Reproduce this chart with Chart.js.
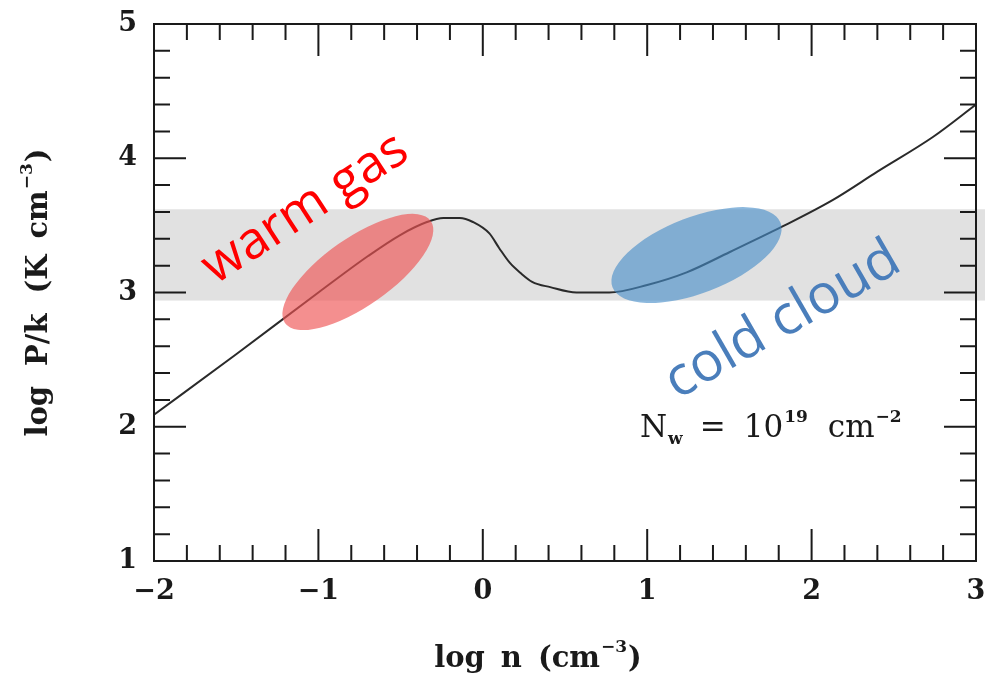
<!DOCTYPE html>
<html>
<head>
<meta charset="utf-8">
<script src="https://cdn.jsdelivr.net/npm/chart.js@4.4.0/dist/chart.umd.min.js"></script>
<style>
  html, body { margin: 0; padding: 0; background: #fff; }
  #wrap { width: 985px; height: 680px; position: relative; }
</style>
</head>
<body>
<div id="wrap"><canvas id="chart"></canvas></div>
<script>
// --- curve: log n (cm^-3) vs log P/k ---
const logN  = [-2, -1.5, -1.0, -0.7, -0.5, -0.34, -0.24, -0.14, -0.06, 0.04, 0.1, 0.165, 0.23, 0.3, 0.41, 0.57, 0.77, 1.0, 1.24, 1.5, 1.82, 2.13, 2.4, 2.74, 3.0];
const logPk = [2.09, 2.54, 3.0, 3.27, 3.43, 3.525, 3.555, 3.555, 3.525, 3.44, 3.33, 3.22, 3.145, 3.08, 3.04, 3.0, 3.0, 3.056, 3.15, 3.30, 3.49, 3.69, 3.90, 4.16, 4.40];

const xTicks = [-2, -1, 0, 1, 2, 3];
const yTicks = [1, 2, 3, 4, 5];

// grey pressure band
const bandLow = 2.94;
const bandHigh = 3.62;

// coloured blobs (centre in data units)
const blobX = [-0.76, 1.30];
const blobY = [3.153, 3.279];

// annotation labels (baseline centre in data units)
const noteText = ['warm gas', 'cold cloud'];
const noteX = [-1.03, 1.872];
const noteY = [3.53, 2.687];

const points = logN.map((x, i) => ({ x: x, y: logPk[i] }));

// text made of pieces (superscripts / subscripts), left aligned on the baseline
function richWidth(ctx, parts, font, smallFont) {
  let w = 0;
  parts.forEach(p => {
    ctx.font = (p.sup || p.sub) ? smallFont : font;
    w += (p.pre || 0) + ctx.measureText(p.t).width;
  });
  return w;
}
function drawRich(ctx, parts, font, smallFont, x, y, raise, drop) {
  let cx = x;
  parts.forEach(p => {
    cx += p.pre || 0;
    ctx.font = (p.sup || p.sub) ? smallFont : font;
    let dy = p.sup ? -raise : (p.sub ? drop : 0);
    ctx.fillText(p.t, cx, y + dy);
    cx += ctx.measureText(p.t).width;
  });
}

const decorations = {
  id: 'decorations',
  beforeDatasetsDraw(chart) {
    const { ctx, chartArea: a, scales: { y } } = chart;
    ctx.save();
    ctx.fillStyle = '#e1e1e1';
    const top = y.getPixelForValue(bandHigh);
    const bot = y.getPixelForValue(bandLow);
    ctx.fillRect(a.left + 1, top, chart.width - a.left, bot - top);
    ctx.restore();
  },
  afterDatasetsDraw(chart) {
    const { ctx, chartArea: a, scales: { x, y } } = chart;
    ctx.save();

    // blobs
    const blobStyle = [
      { rx: 89, ry: 34, rot: -35, color: 'rgba(238, 83, 83, 0.65)' },
      { rx: 90, ry: 38, rot: -21, color: 'rgba(70, 140, 200, 0.62)' }
    ];
    blobX.forEach((bx, i) => {
      const s = blobStyle[i];
      ctx.beginPath();
      ctx.ellipse(x.getPixelForValue(bx), y.getPixelForValue(blobY[i]), s.rx, s.ry, s.rot * Math.PI / 180, 0, Math.PI * 2);
      ctx.fillStyle = s.color;
      ctx.fill();
    });

    // frame
    ctx.strokeStyle = '#1a1a1a';
    ctx.lineWidth = 2;
    ctx.strokeRect(a.left, a.top, a.right - a.left, a.bottom - a.top);

    // inward ticks on all four sides, minor every 0.2
    ctx.beginPath();
    for (let v = -2; v <= 3.001; v += 0.2) {
      const px = x.getPixelForValue(v);
      const len = Math.abs(v - Math.round(v)) < 0.01 ? 32 : 16;
      ctx.moveTo(px, a.bottom); ctx.lineTo(px, a.bottom - len);
      ctx.moveTo(px, a.top); ctx.lineTo(px, a.top + len);
    }
    for (let v = 1; v <= 5.001; v += 0.2) {
      const py = y.getPixelForValue(v);
      const len = Math.abs(v - Math.round(v)) < 0.01 ? 32 : 16;
      ctx.moveTo(a.left, py); ctx.lineTo(a.left + len, py);
      ctx.moveTo(a.right, py); ctx.lineTo(a.right - len, py);
    }
    ctx.stroke();

    // slanted labels, sized to the width they take in the figure
    const noteStyle = [
      { rot: -33, color: '#ff0000', width: 234 },
      { rot: -30, color: '#4a7ebb', width: 262 }
    ];
    ctx.textAlign = 'center';
    ctx.textBaseline = 'alphabetic';
    noteText.forEach((t, i) => {
      ctx.font = '100px "Open Sans"';
      const size = noteStyle[i].width / ctx.measureText(t).width * 100;
      ctx.font = size.toFixed(1) + 'px "Open Sans"';
      ctx.save();
      ctx.translate(x.getPixelForValue(noteX[i]), y.getPixelForValue(noteY[i]));
      ctx.rotate(noteStyle[i].rot * Math.PI / 180);
      ctx.fillStyle = noteStyle[i].color;
      ctx.fillText(t, 0, 0);
      ctx.restore();
    });

    // N_w = 10^19 cm^-2
    ctx.textAlign = 'left';
    ctx.fillStyle = '#1a1a1a';
    drawRich(ctx, [
      { t: 'N' }, { t: 'w', sub: true, pre: 1 },
      { t: '=', pre: 17 }, { t: '10', pre: 18 }, { t: '19', sup: true, pre: 1 },
      { t: 'cm', pre: 20 }, { t: '−2', sup: true, pre: 1 }
    ], '31px "DejaVu Serif"', 'bold 17px "DejaVu Serif"',
      x.getPixelForValue(0.956), y.getPixelForValue(1.92), 15, 7);

    // axis titles
    const tFont = 'bold 29px "DejaVu Serif"';
    const sFont = 'bold 17px "DejaVu Serif"';
    const xParts = [{ t: 'log' }, { t: 'n', pre: 16 }, { t: '(cm', pre: 16 }, { t: '−3', sup: true, pre: 1 }, { t: ')', pre: 1 }];
    const xw = richWidth(ctx, xParts, tFont, sFont);
    drawRich(ctx, xParts, tFont, sFont, 538 - xw / 2, 667, 15, 0);

    const yParts = [{ t: 'log' }, { t: 'P/k', pre: 20 }, { t: '(K', pre: 20 }, { t: 'cm', pre: 16 }, { t: '−3', sup: true, pre: 1 }, { t: ')', pre: 1 }];
    const yw = richWidth(ctx, yParts, tFont, sFont);
    ctx.save();
    ctx.translate(47, (a.top + a.bottom) / 2);
    ctx.rotate(-Math.PI / 2);
    drawRich(ctx, yParts, tFont, sFont, -yw / 2, 0, 15, 0);
    ctx.restore();

    ctx.restore();
  }
};

new Chart(document.getElementById('chart'), {
  type: 'line',
  data: {
    datasets: [{
      data: points,
      borderColor: '#2a2a2a',
      borderWidth: 2,
      pointRadius: 0,
      fill: false,
      cubicInterpolationMode: 'monotone'
    }]
  },
  options: {
    responsive: true,
    maintainAspectRatio: false,
    animation: false,
    layout: { padding: { left: 0, right: 9, top: 24, bottom: 0 } },
    plugins: { legend: { display: false }, tooltip: { enabled: false } },
    scales: {
      x: {
        type: 'linear',
        min: -2, max: 3,
        afterFit: s => {
          s.height = 119;
          s.paddingLeft = 0; s.paddingRight = 0;
        },
        afterBuildTicks: s => { s.ticks = xTicks.map(v => ({ value: v })); },
        grid: { display: false, drawTicks: false },
        border: { display: false },
        ticks: {
          padding: 15,
          color: '#1a1a1a',
          font: { family: '"DejaVu Serif"', size: 27, weight: 'bold' },
          callback: v => String(v).replace('-', '−')
        }
      },
      y: {
        min: 1, max: 5,
        afterFit: s => {
          s.width = 154;
          s.paddingTop = 0; s.paddingBottom = 0;
        },
        afterBuildTicks: s => { s.ticks = yTicks.map(v => ({ value: v })); },
        grid: { display: false, drawTicks: false },
        border: { display: false },
        ticks: {
          padding: 17,
          color: '#1a1a1a',
          font: { family: '"DejaVu Serif"', size: 27, weight: 'bold' }
        }
      }
    }
  },
  plugins: [decorations]
});
</script>
</body>
</html>
